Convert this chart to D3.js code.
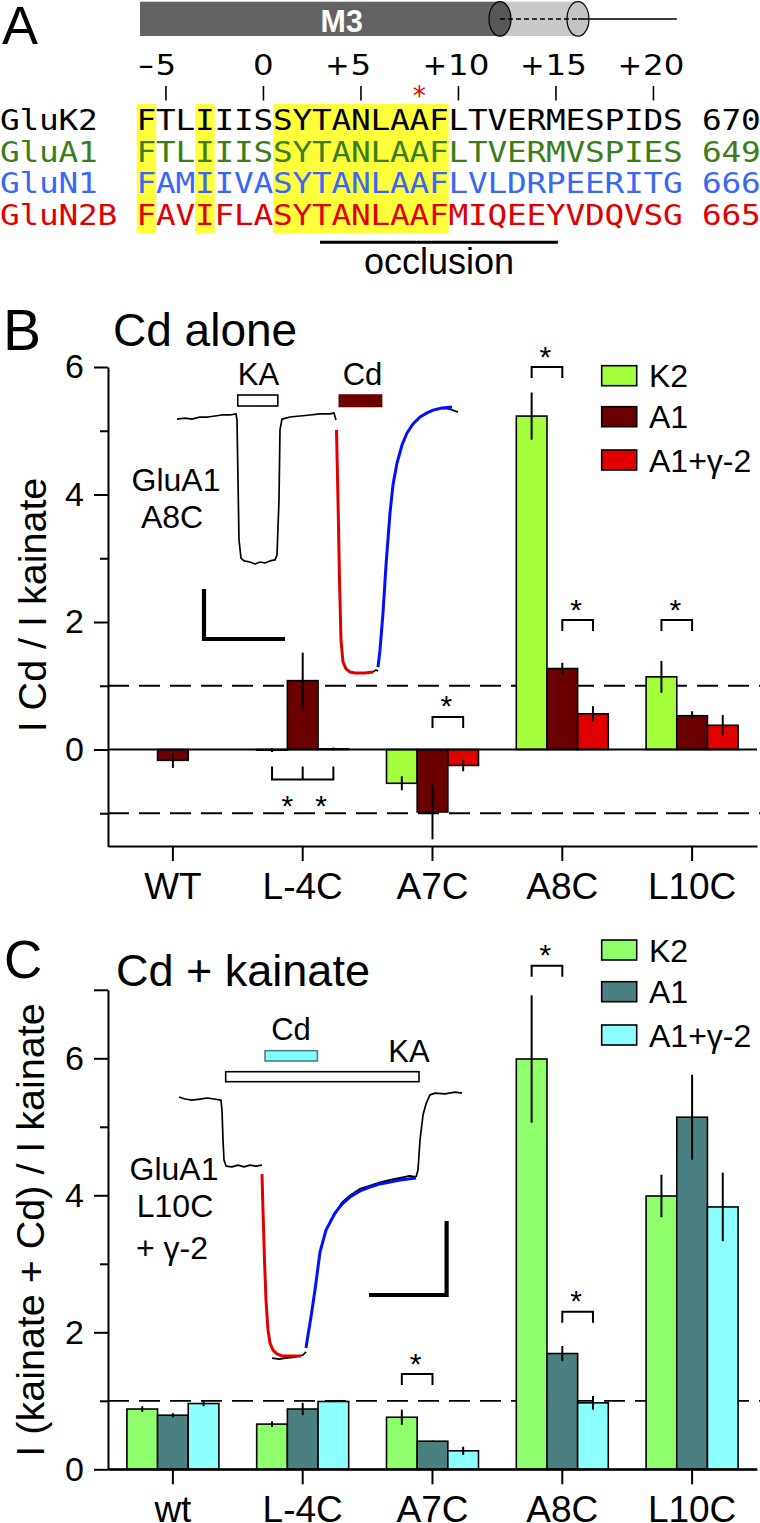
<!DOCTYPE html>
<html><head><meta charset="utf-8">
<script src="https://cdn.jsdelivr.net/npm/d3@7"></script>
<style>body{margin:0;background:#fff} svg{display:block}</style>
</head><body><svg id="fig" width="760" height="1523"></svg>
<script>
// ---------------- DATA ----------------
// Panel A: alignment
const seqNames = ["GluK2","GluA1","GluN1","GluN2B"];
const seqStrings = ["FTLIIISSYTANLAAFLTVERMESPIDS","FTLIIISSYTANLAAFLTVERMVSPIES","FAMIIVASYTANLAAFLVLDRPEERITG","FAVIFLASYTANLAAFMIQEEYVDQVSG"];
const seqEnds = ["670","649","666","665"];
const seqColors = ["#000000","#3b7d1b","#3a68f5","#e00000"];
const seqFirstPos = -6;
const posTickValues = [-5,0,5,10,15,20];
const posTickLabels = ["-5","0","+5","+10","+15","+20"];
const highlightRanges = [[-6,-6],[-3,-3],[1,9]];
const starPositions = [8];
const occlusionRange = [2.9, 15.1];
const helixDark = [-6.33, 12.13];
const helixLight = [12.13, 16.13];
const helixLineEnd = 21.2;

// Panel B: Cd alone
const categoriesB = ["WT","L-4C","A7C","A8C","L10C"];
const seriesNames = ["K2","A1","A1+\u03b3-2"];
const valsB_K2 = [0, -0.01, -0.53, 5.23, 1.14];
const errB_K2  = [0, 0.03, 0.11, 0.37, 0.25];
const valsB_A1 = [-0.17, 1.08, -0.98, 1.27, 0.53];
const errB_A1  = [0.12, 0.44, 0.43, 0.09, 0.07];
const valsB_G2 = [0, 0.01, -0.25, 0.56, 0.38];
const errB_G2  = [0, 0.02, 0.09, 0.12, 0.16];
const ticksB_major = [0,2,4,6];
const ticksB_minor = [-1,1,3,5];
const refLinesB = [1,-1];
// significance brackets: [category, series a, series b, level]
const sigB = [["A8C",0,1,6.0],["A7C",1,2,0.51],["A8C",1,2,2.03],["L10C",0,1,2.03]];
const sigB_L4C_level = -0.47;

// Panel C: Cd + kainate
const categoriesC = ["wt","L-4C","A7C","A8C","L10C"];
const valsC_K2 = [0.88, 0.66, 0.76, 5.99, 3.99];
const errC_K2  = [0.04, 0.04, 0.11, 0.93, 0.31];
const valsC_A1 = [0.79, 0.88, 0.41, 1.69, 5.14];
const errC_A1  = [0.03, 0.09, 0.01, 0.11, 0.62];
const valsC_G2 = [0.96, 0.99, 0.27, 0.97, 3.83];
const errC_G2  = [0.04, 0.01, 0.06, 0.10, 0.50];
const ticksC_major = [0,2,4,6,7];
const ticksC_minor = [1,3,5];
const refLinesC = [1];
const sigC = [["A8C",0,1,7.35],["A8C",1,2,2.30],["A7C",0,1,1.39]];

// Inset traces (time in % of sweep, current normalised: 0 = baseline, -1 = Cd peak)
const trB_pre = [[0.35,-0.012],[3.19,-0.008],[5.67,-0.012],[8.51,-0.004],[11.35,-0.004],[13.83,0],[16.31,0.004],[19.15,0.004],[21.28,0.008],[21.63,-0.016],[21.99,-0.249],[22.34,-0.482],[23.05,-0.553],[24.11,-0.564],[26.24,-0.568],[28.01,-0.576],[29.79,-0.568],[31.56,-0.572],[33.33,-0.564],[35.11,-0.56],[35.82,-0.541],[36.52,-0.327],[36.88,-0.054],[37.59,-0.012],[40.43,-0.004],[43.97,0],[47.52,0.004],[51.06,0.008],[54.61,0.008],[56.03,0.012],[56.74,-0.016]];
const trB_red = [[56.91,-0.054],[57.45,-0.327],[57.98,-0.638],[58.51,-0.872],[59.22,-0.957],[60.28,-0.984],[61.7,-0.996],[63.48,-1],[67.02,-1],[69.86,-0.996]];
const trB_mid = [[69.86,-0.996],[70.92,-0.988],[71.63,-0.992]];
const trB_tail = [[94.5,0.027],[95.39,0.03],[97.16,0.027],[98.94,0.019],[100,0.016]];
const trB_blue = [[71.63,-0.977],[72.34,-0.911],[73.4,-0.767],[74.47,-0.58],[75.89,-0.377],[76.95,-0.268],[78.37,-0.183],[80.14,-0.113],[81.91,-0.066],[84.04,-0.031],[86.52,-0.004],[89.01,0.012],[91.13,0.023],[94.33,0.031],[97.87,0.035]];
const barB_KA = [21.9, 36.1];
const barB_Cd = [57.9, 72.9];

const trC_pre = [[0,0.004],[2.12,-0.004],[4.59,-0.008],[7.42,-0.004],[9.89,0],[12.37,-0.004],[14.84,-0.008],[15.19,-0.047],[15.55,-0.163],[15.9,-0.24],[16.61,-0.264],[18.73,-0.267],[20.85,-0.26],[22.97,-0.267],[25.09,-0.26],[27.21,-0.264],[29.33,-0.26]];
const trC_red = [[29.33,-0.295],[29.68,-0.434],[30.21,-0.628],[30.74,-0.783],[31.45,-0.899],[32.16,-0.95],[33.22,-0.977],[34.63,-0.992],[36.4,-1],[39.22,-1],[43.11,-1]];
const trC_mid = [[32.86,-1.008],[35.5,-1.012],[37.46,-1.008],[40.99,-1.004],[43.82,-0.996],[44.88,-0.984]];
const trC_under = [[53.36,-0.481],[57.6,-0.405],[60.42,-0.378],[63.96,-0.352],[67.49,-0.34],[71.02,-0.327],[74.56,-0.318],[78.09,-0.31],[81.5,-0.302],[83.75,-0.306]];
const trC_post = [[83.75,-0.306],[84.45,-0.279],[85.16,-0.163],[86.22,-0.066],[87.28,-0.023],[88.69,0.012],[90.46,0.019],[93.99,0.016],[97.53,0.023],[100,0.019]];
const trC_blue = [[44.88,-0.969],[45.58,-0.919],[46.64,-0.849],[48.06,-0.744],[49.82,-0.597],[51.94,-0.512],[55.12,-0.446],[57.6,-0.411],[60.42,-0.384],[63.96,-0.36],[67.49,-0.345],[71.02,-0.333],[74.56,-0.326],[78.09,-0.318],[83.75,-0.31]];
const barC_KA = [16.5, 84.8];
const barC_Cd = [30.4, 48.9];

// ---------------- DRAWING ----------------
const FONT = '"Liberation Sans", Arial, Helvetica, sans-serif';
const svg = d3.select("#fig");

function addText(g, x, y, str, o = {}) {
  let tr = `translate(${x},${y})`;
  if (o.rot) tr += ` rotate(${o.rot})`;
  if (o.sx) tr += ` scale(${o.sx},1)`;
  const t = g.append("text").attr("transform", tr)
    .attr("font-size", o.size || 30).attr("font-family", o.family || FONT)
    .attr("fill", o.fill || "#000").attr("text-anchor", o.anchor || "start").text(str);
  if (o.weight) t.attr("font-weight", o.weight);
  return t;
}

// ===== Panel A =====
const gA = svg.append("g");
const colX = d3.scaleLinear().domain([0, 1]).range([263.45, 282.95]);
const rowY = d3.scalePoint().domain(seqNames).range([130, 225]);

// helix
gA.append("rect").attr("x", colX(helixLight[0])).attr("y", 1.7).attr("width", colX(helixLight[1]) - colX(helixLight[0])).attr("height", 34.3).attr("fill", "#c8c8c8");
gA.append("ellipse").attr("cx", colX(helixLight[1])).attr("cy", 18.9).attr("rx", 11).attr("ry", 17.2).attr("fill", "#c4c4c4").attr("stroke", "#000").attr("stroke-width", 1.2);
gA.append("rect").attr("x", colX(helixDark[0])).attr("y", 1.7).attr("width", colX(helixDark[1]) - colX(helixDark[0])).attr("height", 34.3).attr("fill", "#636363");
gA.append("ellipse").attr("cx", colX(helixDark[1])).attr("cy", 18.9).attr("rx", 11).attr("ry", 17.2).attr("fill", "#575757").attr("stroke", "#000").attr("stroke-width", 1.2);
gA.append("line").attr("x1", colX(helixDark[1])).attr("x2", colX(helixLight[1])).attr("y1", 19).attr("y2", 19).attr("stroke", "#000").attr("stroke-width", 1.6).attr("stroke-dasharray", "5,3");
gA.append("line").attr("x1", colX(helixLight[1])).attr("x2", colX(helixLineEnd)).attr("y1", 19).attr("y2", 19).attr("stroke", "#000").attr("stroke-width", 1.6);
addText(gA, 341.7, 31.5, "M3", {size: 32, weight: "bold", fill: "#fff", anchor: "middle", sx: 0.95});

addText(gA, 2, 44, "A", {size: 54});

// position numbers and ticks
const MONO = '"DejaVu Sans Mono", monospace';
const NUMF = '"DejaVu Sans", sans-serif';
posTickValues.forEach((p, i) => {
  const lab = posTickLabels[i];
  const sign = (lab[0] === "+" || lab[0] === "-") ? lab[0] : "";
  const digits = sign ? lab.slice(1) : lab;
  const half = 0.318 * 29 * 1.12;
  addText(gA, colX(p) - half, 75, digits, {size: 29, family: NUMF, sx: 1.12});
  if (sign) addText(gA, colX(p) - half - 1, 75, sign, {size: 29, family: NUMF, sx: sign === "-" ? 1.6 : 1.0, anchor: "end"});
  gA.append("line").attr("x1", colX(p)).attr("x2", colX(p)).attr("y1", 86).attr("y2", 100.5).attr("stroke", "#000").attr("stroke-width", 1.6);
});

// yellow highlights
highlightRanges.forEach(r => {
  gA.append("rect").attr("x", colX(r[0] - 0.5)).attr("y", 104).attr("width", colX(r[1] + 0.5) - colX(r[0] - 0.5)).attr("height", 129.3).attr("fill", "#ffff3c");
});
starPositions.forEach(p => addText(gA, colX(p), 105, "*", {size: 26, family: MONO, fill: "#e00000", anchor: "middle"}));

// sequences: every character placed on residue columns
seqNames.forEach((name, r) => {
  const y = rowY(name);
  const col = seqColors[r];
  name.split("").forEach((ch, k) => addText(gA, colX(k - 13), y, ch, {size: 28, family: MONO, fill: col, anchor: "middle", sx: 1.17}));
  seqStrings[r].split("").forEach((ch, i) => addText(gA, colX(seqFirstPos + i), y, ch, {size: 28, family: MONO, fill: col, anchor: "middle", sx: 1.17}));
  seqEnds[r].split("").forEach((ch, k) => addText(gA, colX(23 + k), y, ch, {size: 28, family: MONO, fill: col, anchor: "middle", sx: 1.17}));
});

// occlusion
gA.append("line").attr("x1", colX(occlusionRange[0])).attr("x2", colX(occlusionRange[1])).attr("y1", 242.3).attr("y2", 242.3).attr("stroke", "#000").attr("stroke-width", 3);
addText(gA, 439, 274, "occlusion", {size: 36, anchor: "middle"});

// ===== Bar panel builder =====
function barPanel(cfg) {
  const g = svg.append("g");
  const x = d3.scaleBand().domain(cfg.cats).range([108, 757]);
  const sub = d3.scaleBand().domain(seriesNames).range([-46, 46]);
  const y = d3.scaleLinear().domain(cfg.domain).range(cfg.range);
  const cx = (c, s) => x(c) + x.bandwidth() / 2 + sub(seriesNames[s]) + sub.bandwidth() / 2;

  // reference dashed lines
  cfg.refLines.forEach(v => g.append("line").attr("x1", 108).attr("x2", 760).attr("y1", y(v)).attr("y2", y(v))
    .attr("stroke", "#000").attr("stroke-width", 1.8).attr("stroke-dasharray", "21,10"));

  // bars
  const vals = cfg.vals, errs = cfg.errs;
  seriesNames.forEach((s, si) => {
    cfg.cats.forEach((c, ci) => {
      const v = vals[si][ci];
      g.append("rect").attr("x", x(c) + x.bandwidth() / 2 + sub(s)).attr("width", sub.bandwidth())
        .attr("y", y(Math.max(0, v))).attr("height", Math.abs(y(v) - y(0)))
        .attr("fill", cfg.colors[si]).attr("stroke", "#000").attr("stroke-width", 1.6);
    });
  });
  seriesNames.forEach((s, si) => {
    cfg.cats.forEach((c, ci) => {
      const v = vals[si][ci], e = errs[si][ci];
      if (e > 0) g.append("line").attr("x1", cx(c, si)).attr("x2", cx(c, si)).attr("y1", y(v - e)).attr("y2", y(v + e))
        .attr("stroke", "#000").attr("stroke-width", 2);
    });
  });

  // zero line
  g.append("line").attr("x1", 108).attr("x2", 757).attr("y1", y(0)).attr("y2", y(0)).attr("stroke", "#000").attr("stroke-width", 2);

  // axes
  const ax1 = g.append("g").attr("transform", "translate(108,0)")
    .call(d3.axisLeft(y).tickValues(cfg.major).tickSize(14).tickSizeOuter(0).tickPadding(10)
      .tickFormat(d => cfg.hideLabel && cfg.hideLabel.includes(d) ? "" : d3.format("d")(d)));
  ax1.selectAll("text").attr("font-size", 34).attr("font-family", FONT).attr("fill", "#000");
  ax1.selectAll("line,path").attr("stroke", "#000").attr("stroke-width", 2);
  const ax2 = g.append("g").attr("transform", "translate(108,0)")
    .call(d3.axisLeft(y).tickValues(cfg.minor).tickSize(8).tickSizeOuter(0).tickFormat(""));
  ax2.select(".domain").remove();
  ax2.selectAll("line").attr("stroke", "#000").attr("stroke-width", 2);

  const ax3 = g.append("g").attr("transform", `translate(0,${cfg.xAxisY})`)
    .call(d3.axisBottom(x).tickSize(15).tickSizeOuter(0).tickPadding(cfg.xPad));
  ax3.selectAll("text").attr("font-size", 37).attr("font-family", FONT).attr("fill", "#000");
  ax3.selectAll("line,path").attr("stroke", "#000").attr("stroke-width", 2);

  // significance brackets
  cfg.sig.forEach(sg => {
    const [c, a, b, lev] = sg;
    const xa = cx(c, a), xb = cx(c, b), yl = y(lev);
    g.append("path").attr("d", `M${xa},${yl + 11}V${yl}H${xb}V${yl + 11}`).attr("fill", "none").attr("stroke", "#000").attr("stroke-width", 2);
    addText(g, (xa + xb) / 2 - 1.5, yl - 0.5, "*", {size: 30, anchor: "middle"});
  });

  // legend
  seriesNames.forEach((s, si) => {
    const yy = cfg.legendY[si];
    g.append("rect").attr("x", 601.7).attr("y", yy - 10).attr("width", 35).attr("height", 20)
      .attr("fill", cfg.colors[si]).attr("stroke", "#000").attr("stroke-width", 1.6);
    addText(g, 649, yy + 11.5, s, {size: 32});
  });

  // inset trace
  const tx = d3.scaleLinear().domain([0, 100]).range(cfg.traceX);
  const ty = d3.scaleLinear().domain([-1, 0]).range(cfg.traceY);
  const line = d3.line().x(d => tx(d[0])).y(d => ty(d[1]));
  cfg.traces.forEach(tr => g.append("path").attr("d", line(tr.data)).attr("fill", "none")
    .attr("stroke", tr.color).attr("stroke-width", tr.w).attr("stroke-linejoin", "round"));
  cfg.appBars.forEach(b => g.append("rect").attr("x", tx(b.range[0])).attr("width", tx(b.range[1]) - tx(b.range[0]))
    .attr("y", b.y).attr("height", b.h).attr("fill", b.fill).attr("stroke", b.stroke).attr("stroke-width", 1.6));

  // scale bar
  g.append("path").attr("d", cfg.scaleBar).attr("fill", "none").attr("stroke", "#000").attr("stroke-width", 4.2);

  return {g, x, y, cx};
}

// ===== Panel B =====
const pB = barPanel({
  cats: categoriesB, domain: [-1.52, 6], range: [846.4, 367],
  vals: [valsB_K2, valsB_A1, valsB_G2], errs: [errB_K2, errB_A1, errB_G2],
  colors: ["#a3ff3c", "#6b0000", "#e00000"],
  refLines: refLinesB, major: ticksB_major, minor: ticksB_minor,
  xAxisY: 846, xPad: 12, sig: sigB, legendY: [375.7, 416.7, 460],
  traceX: [176, 458], traceY: [673, 416],
  traces: [
    {data: trB_pre, color: "#000", w: 1.7}, {data: trB_mid, color: "#000", w: 1.7}, {data: trB_tail, color: "#000", w: 1.7},
    {data: trB_red, color: "#e00000", w: 3}, {data: trB_blue, color: "#0010ff", w: 3}
  ],
  appBars: [
    {range: barB_KA, y: 395, h: 11, fill: "#fff", stroke: "#000"},
    {range: barB_Cd, y: 395, h: 11.5, fill: "#6b0000", stroke: "#6b0000"}
  ],
  scaleBar: "M204,589V639H285"
});
// L-4C double bracket below
{
  const g = pB.g, c = "L-4C";
  const ya = pB.y(sigB_L4C_level);
  const x0 = pB.cx(c, 0), x1 = pB.cx(c, 1), x2 = pB.cx(c, 2);
  g.append("path").attr("d", `M${x0},${ya - 13}V${ya}H${x2}V${ya - 13}M${x1},${ya}V${ya - 13}`).attr("fill", "none").attr("stroke", "#000").attr("stroke-width", 2);
  addText(g, (x0 + x1) / 2, ya + 37, "*", {size: 30, anchor: "middle"});
  addText(g, (x1 + x2) / 2 + 3, ya + 37, "*", {size: 30, anchor: "middle"});
}
addText(pB.g, 3, 350, "B", {size: 57});
addText(pB.g, 113, 346, "Cd alone", {size: 46});
addText(pB.g, 258.5, 385, "KA", {size: 31, anchor: "middle"});
addText(pB.g, 362.5, 385, "Cd", {size: 31, anchor: "middle"});
addText(pB.g, 176, 491, "GluA1", {size: 32, anchor: "middle"});
addText(pB.g, 172, 527.5, "A8C", {size: 32, anchor: "middle"});
addText(pB.g, 46, 605, "I Cd / I kainate", {size: 39.5, anchor: "middle", rot: -90});

// ===== Panel C =====
const pC = barPanel({
  cats: categoriesC, domain: [0, 7], range: [1469.3, 989.8],
  vals: [valsC_K2, valsC_A1, valsC_G2], errs: [errC_K2, errC_A1, errC_G2],
  colors: ["#8fff6c", "#4a8080", "#8cffff"],
  refLines: refLinesC, major: ticksC_major, minor: ticksC_minor, hideLabel: [7],
  xAxisY: 1469.3, xPad: 11, sig: sigC, legendY: [950, 991.7, 1035],
  traceX: [179, 462], traceY: [1356, 1098],
  traces: [
    {data: trC_pre, color: "#000", w: 1.7}, {data: trC_mid, color: "#000", w: 1.7}, {data: trC_under, color: "#000", w: 1.9},
    {data: trC_post, color: "#000", w: 1.7}, {data: trC_red, color: "#e00000", w: 3}, {data: trC_blue, color: "#0010ff", w: 3}
  ],
  appBars: [
    {range: barC_KA, y: 1071.7, h: 10, fill: "#fff", stroke: "#000"},
    {range: barC_Cd, y: 1050.7, h: 10.3, fill: "#80ffff", stroke: "#4a8080"}
  ],
  scaleBar: "M446.6,1221V1295H369"
});
addText(pC.g, 4, 978, "C", {size: 53});
addText(pC.g, 116, 986, "Cd + kainate", {size: 45});
addText(pC.g, 291, 1040, "Cd", {size: 31, anchor: "middle"});
addText(pC.g, 409, 1062, "KA", {size: 31, anchor: "middle"});
addText(pC.g, 174, 1180, "GluA1", {size: 32, anchor: "middle"});
addText(pC.g, 175, 1217, "L10C", {size: 32, anchor: "middle"});
addText(pC.g, 172, 1259, "+ \u03b3-2", {size: 32, anchor: "middle"});
addText(pC.g, 44, 1230, "I (kainate + Cd) / I kainate", {size: 39.5, anchor: "middle", rot: -90});
</script></body></html>
